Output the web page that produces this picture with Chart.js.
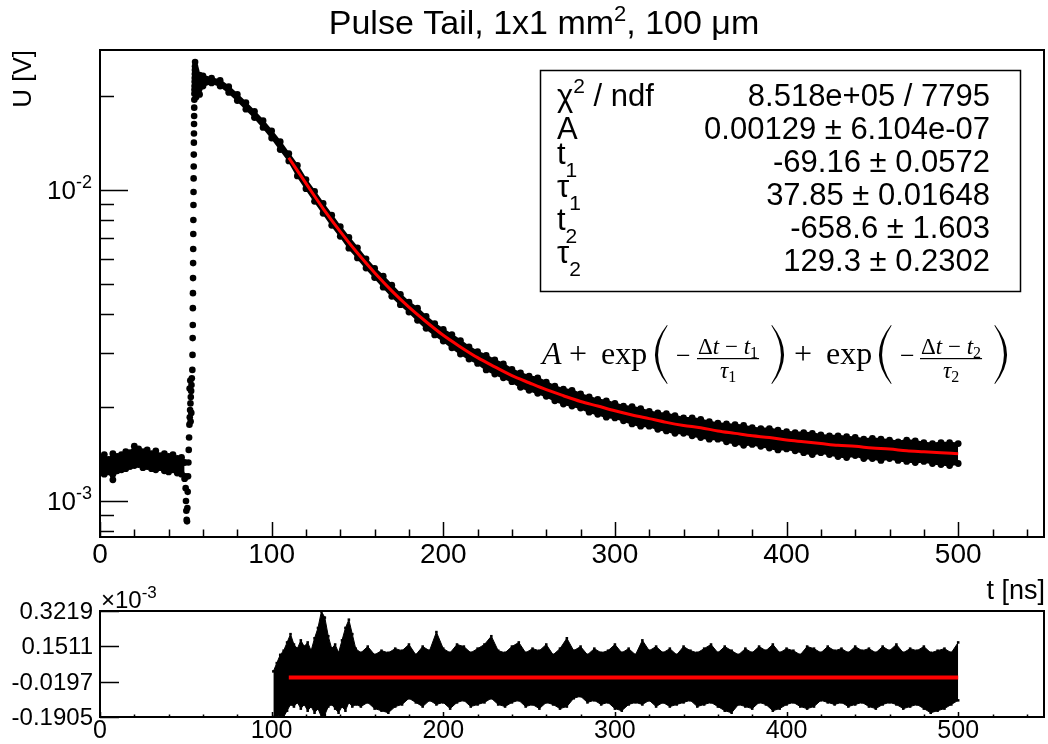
<!DOCTYPE html>
<html lang="en">
<head>
<meta charset="UTF-8">
<title>Pulse Tail, 1x1 mm2, 100 um</title>
<script src="https://cdn.jsdelivr.net/npm/chart.js"></script>
<style>
    body { margin: 0; background: #fff; }
    #wrap { position: relative; width: 1048px; height: 744px; }
    canvas { position: absolute; left: 0; top: 0; }
</style>
</head>
<body>
<div id="wrap">
    <canvas id="pulseChart" width="1048" height="744"></canvas>
    <canvas id="residChart" width="1048" height="744"></canvas>
</div>
<script>
// ---- values ----
// baseline noise band before the pulse (t in ns, U in V)
const baseT  = [0, 2.5, 5, 7.5, 10, 12.5, 15, 17.5, 20, 22.5, 25, 27.5, 30, 32.5, 35, 37.5, 40, 42.5, 45, 47.5, 49.3];
const baseHi = [1.38e-3, 1.41e-3, 1.36e-3, 1.42e-3, 1.39e-3, 1.41e-3, 1.44e-3, 1.43e-3, 1.50e-3, 1.47e-3, 1.44e-3,
                1.46e-3, 1.42e-3, 1.45e-3, 1.40e-3, 1.42e-3, 1.39e-3, 1.41e-3, 1.37e-3, 1.38e-3, 1.33e-3];
const baseLo = [1.23e-3, 1.22e-3, 1.24e-3, 1.17e-3, 1.25e-3, 1.26e-3, 1.27e-3, 1.29e-3, 1.30e-3, 1.31e-3, 1.28e-3,
                1.29e-3, 1.27e-3, 1.26e-3, 1.28e-3, 1.25e-3, 1.24e-3, 1.26e-3, 1.23e-3, 1.22e-3, 1.18e-3];

// single samples on the dip and the rising edge
const edgeT = [49.6, 49.9, 50.1, 50.3, 50.5, 50.7, 50.9, 51.1, 51.3, 51.5, 51.7, 51.9,
               52.1, 52.2, 52.3, 52.5, 52.6, 52.7, 52.8, 52.9, 53.1, 53.2, 53.3, 53.5,
               53.8, 53.9, 54.0, 54.05, 54.1, 54.15, 54.2, 54.25, 54.3, 54.35, 54.4, 54.45, 54.5, 54.55,
               54.6, 54.65, 54.7, 54.75, 54.8, 54.85, 54.9, 54.95, 55.0, 55.05, 55.1, 55.15, 55.2, 55.25,
               55.3, 55.35, 55.4, 55.7];
const edgeU = [1.20e-3, 1.10e-3, 1.00e-3, 0.93e-3, 0.87e-3, 0.86e-3, 0.95e-3, 1.07e-3, 1.20e-3, 1.33e-3, 1.46e-3, 1.60e-3,
               1.76e-3, 2.30e-3, 1.86e-3, 1.96e-3, 2.44e-3, 2.06e-3, 1.80e-3, 2.16e-3, 2.26e-3, 1.92e-3, 2.36e-3, 2.48e-3,
               2.64e-3, 2.95e-3, 3.34e-3, 3.68e-3, 4.17e-3, 4.66e-3, 5.21e-3, 5.82e-3, 6.46e-3, 7.22e-3, 8.01e-3, 8.95e-3,
               9.85e-3, 10.9e-3, 11.9e-3, 13.0e-3, 14.2e-3, 15.2e-3, 16.3e-3, 17.3e-3, 18.4e-3, 19.5e-3, 20.4e-3, 21.0e-3,
               21.6e-3, 22.3e-3, 22.9e-3, 23.6e-3, 24.3e-3, 25.0e-3, 25.8e-3, 24.5e-3];

// noise band of the pulse tail (upper / lower edge of the scatter)
const tailT  = [56, 58, 60, 65, 70, 75, 80, 85, 90, 95, 100, 105,
                110, 115, 120, 125, 130, 135, 140, 145, 150, 155,
                160, 165, 170, 175, 180, 185, 190, 195, 200, 205,
                210, 215, 220, 225, 230, 235, 240, 245, 250, 255,
                260, 265, 270, 275, 280, 285, 290, 295, 300, 305,
                310, 315, 320, 325, 330, 335, 340, 345, 350, 355,
                360, 365, 370, 375, 380, 385, 390, 395, 400, 405,
                410, 415, 420, 425, 430, 435, 440, 445, 450, 455,
                460, 465, 470, 475, 480, 485, 490, 495, 500];
const tailHi = [0.0241, 0.0234, 0.0233, 0.0229, 0.0225, 0.0215, 0.0203, 0.0191, 0.0179, 0.0167, 0.0155, 0.0143,
                0.0131, 0.0120, 0.0108, 0.0099, 0.00905, 0.0083, 0.00762, 0.00704, 0.00652, 0.00601,
                0.00560, 0.00528, 0.00494, 0.00462, 0.00436, 0.00417, 0.00392, 0.00372, 0.00356, 0.00343,
                0.00328, 0.00313, 0.00302, 0.00294, 0.00284, 0.00276, 0.00265, 0.00258, 0.00252, 0.00249,
                0.00241, 0.00234, 0.00229, 0.00227, 0.00221, 0.00216, 0.00212, 0.00210, 0.00206, 0.00202,
                0.00201, 0.00198, 0.00194, 0.00192, 0.00191, 0.00188, 0.00185, 0.00185, 0.00183, 0.00180,
                0.00178, 0.00177, 0.00176, 0.00175, 0.00172, 0.00171, 0.00171, 0.00169, 0.00167, 0.00166,
                0.00166, 0.00165, 0.00163, 0.00162, 0.00162, 0.00161, 0.00160, 0.00158, 0.00159, 0.00158,
                0.00157, 0.00155, 0.00157, 0.00156, 0.00154, 0.00153, 0.00154, 0.00154, 0.00153];
const tailLo = [0.0199, 0.0203, 0.0216, 0.0221, 0.0216, 0.0206, 0.0194, 0.0182, 0.0171, 0.0159, 0.0147, 0.0135,
                0.0124, 0.0111, 0.0101, 0.0092, 0.00842, 0.0077, 0.00710, 0.00650, 0.00605, 0.00561,
                0.00523, 0.00487, 0.00455, 0.00428, 0.00405, 0.00381, 0.00359, 0.00342, 0.00327, 0.00311,
                0.00297, 0.00286, 0.00277, 0.00264, 0.00256, 0.00249, 0.00242, 0.00232, 0.00227, 0.00222,
                0.00217, 0.00210, 0.00205, 0.00202, 0.00199, 0.00193, 0.00190, 0.00186, 0.00185, 0.00181,
                0.00177, 0.00174, 0.00174, 0.00170, 0.00168, 0.00165, 0.00165, 0.00162, 0.00160, 0.00158,
                0.00158, 0.00155, 0.00153, 0.00151, 0.00152, 0.00150, 0.00148, 0.00146, 0.00147, 0.00145,
                0.00143, 0.00141, 0.00143, 0.00141, 0.00139, 0.00138, 0.00140, 0.00137, 0.00137, 0.00135,
                0.00137, 0.00135, 0.00134, 0.00133, 0.00134, 0.00132, 0.00131, 0.00130, 0.00132];

// fitted curve (red)
const fitT = [110, 120, 130, 140, 150, 160, 170, 180, 190, 200, 210, 220, 230, 240, 250, 260, 270, 280, 290, 300,
              310, 320, 330, 340, 350, 360, 370, 380, 390, 400, 410, 420, 430, 440, 450, 460, 470, 480, 490, 500];
const fitU = [0.0127, 0.0105, 0.00872, 0.00735, 0.00627, 0.00542, 0.00474, 0.00420, 0.00377, 0.00341, 0.00313, 0.00289,
              0.00270, 0.00253, 0.00240, 0.00228, 0.00218, 0.00209, 0.00202, 0.00195, 0.00189, 0.00184, 0.00179, 0.00175,
              0.00172, 0.00168, 0.00165, 0.00162, 0.00160, 0.00157, 0.00155, 0.00153, 0.00151, 0.00150, 0.00148, 0.00147,
              0.00145, 0.00144, 0.00143, 0.00142];

// residuals, upper and lower edge of the scatter, in units of 1e-3
const resT  = [101, 103, 105, 107, 109, 111, 113, 115, 117, 119, 121, 123, 125, 127, 129, 131, 133, 135, 137, 139,
               141, 143, 145, 147, 149,
               152, 156, 160, 164, 168, 172, 176, 180, 184, 188,
               192, 196, 200, 204, 208, 212, 216, 220, 224, 228,
               232, 236, 240, 244, 248, 252, 256, 260, 264, 268,
               272, 276, 280, 284, 288, 292, 296, 300, 304, 308,
               312, 316, 320, 324, 328, 332, 336, 340, 344, 348,
               352, 356, 360, 364, 368, 372, 376, 380, 384, 388,
               392, 396, 400, 404, 408, 412, 416, 420, 424, 428,
               432, 436, 440, 444, 448, 452, 456, 460, 464, 468,
               472, 476, 480, 484, 488, 492, 496, 500];
const resHi = [0.03, 0.07, 0.11, 0.13, 0.17, 0.21, 0.16, 0.14, 0.18, 0.15, 0.17, 0.13, 0.19, 0.24, 0.32, 0.29, 0.20,
               0.14, 0.16, 0.12, 0.18, 0.24, 0.28, 0.21, 0.14,
               0.12, 0.15, 0.11, 0.13, 0.12, 0.14, 0.13, 0.16, 0.11, 0.15,
               0.13, 0.22, 0.14, 0.12, 0.16, 0.15, 0.12, 0.14, 0.16, 0.20,
               0.13, 0.12, 0.15, 0.17, 0.12, 0.14, 0.13, 0.16, 0.11, 0.14,
               0.19, 0.13, 0.15, 0.11, 0.14, 0.12, 0.13, 0.16, 0.12, 0.14,
               0.11, 0.18, 0.13, 0.15, 0.12, 0.14, 0.11, 0.15, 0.13, 0.12,
               0.14, 0.16, 0.12, 0.15, 0.13, 0.11, 0.14, 0.12, 0.15, 0.13,
               0.16, 0.12, 0.14, 0.13, 0.11, 0.15, 0.14, 0.12, 0.15, 0.13,
               0.14, 0.12, 0.15, 0.13, 0.14, 0.12, 0.15, 0.13, 0.16, 0.12,
               0.14, 0.13, 0.15, 0.12, 0.13, 0.14, 0.12, 0.17];
const resLo = [-0.19, -0.19, -0.18, -0.19, -0.16, -0.13, -0.14, -0.12, -0.15, -0.13, -0.16, -0.14, -0.17, -0.15,
               -0.19, -0.18, -0.14, -0.13, -0.15, -0.17, -0.14, -0.16, -0.12, -0.14, -0.13,
               -0.14, -0.12, -0.15, -0.16, -0.17, -0.14, -0.13, -0.10, -0.12, -0.14,
               -0.11, -0.13, -0.12, -0.15, -0.12, -0.11, -0.14, -0.13, -0.12, -0.10,
               -0.13, -0.14, -0.12, -0.11, -0.14, -0.13, -0.15, -0.12, -0.13, -0.15,
               -0.14, -0.10, -0.09, -0.12, -0.11, -0.13, -0.12, -0.15, -0.16, -0.13,
               -0.12, -0.13, -0.11, -0.14, -0.12, -0.14, -0.13, -0.12, -0.11, -0.14,
               -0.13, -0.12, -0.14, -0.16, -0.17, -0.13, -0.14, -0.15, -0.12, -0.13,
               -0.16, -0.15, -0.13, -0.12, -0.14, -0.15, -0.14, -0.11, -0.12, -0.13,
               -0.12, -0.14, -0.13, -0.12, -0.14, -0.15, -0.13, -0.12, -0.13, -0.15,
               -0.14, -0.13, -0.15, -0.17, -0.16, -0.15, -0.13, -0.11];
const zeroT = [110, 500];
const zeroU = [0, 0];

const xTicks = [0, 100, 200, 300, 400, 500];
const yDecades = [-3, -2];
const resTicks = [0.3219, 0.1511, -0.0197, -0.1905];

const statNames = ['χ', 'A', 't', 'τ', 't', 'τ'];
const statSubs = ['', '', '1', '1', '2', '2'];
const statValues = ['8.518e+05 / 7795', '0.00129 ± 6.104e-07', '-69.16 ± 0.0572',
                    '37.85 ± 0.01648', '-658.6 ± 1.603', '129.3 ± 0.2302'];

// ---- helpers ----
const SANS = '"Liberation Sans", Arial, Helvetica, sans-serif';
const SERIF = '"Liberation Serif", "Times New Roman", serif';

function pts(xs, ys) {
    return xs.map((x, i) => ({ x: x, y: ys[i] }));
}

// draw a run of text pieces: [text, size, dy, family, style]
function drawRun(ctx, x, y, parts, align) {
    let w = 0;
    parts.forEach(p => {
        ctx.font = (p[4] || '') + ' ' + p[1] + 'px ' + (p[3] || SANS);
        p.w = ctx.measureText(p[0]).width;
        w += p.w;
    });
    let cx = x;
    if (align === 'right') cx = x - w;
    if (align === 'center') cx = x - w / 2;
    ctx.textAlign = 'left';
    ctx.textBaseline = 'alphabetic';
    parts.forEach(p => {
        ctx.font = (p[4] || '') + ' ' + p[1] + 'px ' + (p[3] || SANS);
        ctx.fillText(p[0], cx, y + (p[2] || 0));
        cx += p.w;
    });
    return w;
}

function drawFraction(ctx, x, num, den) {
    const probe = document.createElement('canvas').getContext('2d');
    const wn = drawRun(probe, 0, 0, num);
    const wd = drawRun(probe, 0, 0, den);
    const w = Math.max(wn, wd) + 2;
    drawRun(ctx, x + (w - wn) / 2, 354, num);
    ctx.fillRect(x, 358, w, 1.2);
    drawRun(ctx, x + (w - wd) / 2, 378, den);
}

// thin, tall TeX-like parenthesis
function drawParen(ctx, x, top, bottom, open) {
    const w = 12, mid = (top + bottom) / 2;
    ctx.beginPath();
    if (open) {
        ctx.moveTo(x + w, top);
        ctx.quadraticCurveTo(x - w, mid, x + w, bottom);
        ctx.lineTo(x + w + 0.6, bottom - 0.5);
        ctx.quadraticCurveTo(x + 5.6 - w, mid, x + w + 0.6, top + 0.5);
    } else {
        ctx.moveTo(x, top);
        ctx.quadraticCurveTo(x + 2 * w, mid, x, bottom);
        ctx.lineTo(x - 0.6, bottom - 0.5);
        ctx.quadraticCurveTo(x + 2 * w - 5.6, mid, x - 0.6, top + 0.5);
    }
    ctx.closePath();
    ctx.fill();
}

function drawFormula(ctx) {
    const big = 32, sm = 23, sub = 16;
    drawRun(ctx, 542, 364, [['A', big, 0, SERIF, 'italic']]);
    drawRun(ctx, 569, 364, [['+', big, 0, SERIF]]);
    drawRun(ctx, 601, 364, [['exp', big, 0, SERIF]]);
    drawParen(ctx, 655, 325, 384, true);
    drawRun(ctx, 676, 364, [['−', 26, 0, SERIF]]);
    drawFraction(ctx, 697,
        [['Δ', sm, 0, SERIF], ['t', sm, 0, SERIF, 'italic'], [' − ', sm, 0, SERIF], ['t', sm, 0, SERIF, 'italic'], ['1', sub, 4, SERIF]],
        [['τ', sm, 0, SERIF, 'italic'], ['1', sub, 4, SERIF]]);
    drawParen(ctx, 772, 325, 384, false);
    drawRun(ctx, 794, 364, [['+', big, 0, SERIF]]);
    drawRun(ctx, 826, 364, [['exp', big, 0, SERIF]]);
    drawParen(ctx, 879, 325, 384, true);
    drawRun(ctx, 900, 364, [['−', 26, 0, SERIF]]);
    drawFraction(ctx, 920,
        [['Δ', sm, 0, SERIF], ['t', sm, 0, SERIF, 'italic'], [' − ', sm, 0, SERIF], ['t', sm, 0, SERIF, 'italic'], ['2', sub, 4, SERIF]],
        [['τ', sm, 0, SERIF, 'italic'], ['2', sub, 4, SERIF]]);
    drawParen(ctx, 995, 325, 384, false);
}

function drawStats(ctx) {
    ctx.lineWidth = 1.5;
    ctx.strokeRect(540.5, 70.5, 480, 221);
    const fs = 31;
    for (let i = 0; i < statValues.length; i++) {
        const yb = 106 + i * 33;
        if (i === 0) {
            drawRun(ctx, 557, yb, [['χ', fs], ['2', 21, -13], [' / ndf', fs]]);
        } else if (statSubs[i]) {
            drawRun(ctx, 557, yb, [[statNames[i], fs, -8], [statSubs[i], 21, 5]]);
        } else {
            drawRun(ctx, 557, yb, [[statNames[i], fs]]);
        }
        drawRun(ctx, 990, yb, [[statValues[i], fs]], 'right');
    }
}

// ROOT-like frame, inward ticks and labels for the pulse pad
const pulseAxes = {
    id: 'pulseAxes',
    afterDraw(chart) {
        const { ctx, chartArea: a, scales: { x, y } } = chart;
        ctx.save();
        ctx.strokeStyle = '#000';
        ctx.fillStyle = '#000';
        ctx.lineWidth = 1.5;
        ctx.beginPath();
        for (let v = 0; v <= 550; v += 20) {
            const px = Math.round(x.getPixelForValue(v)) + 0.5;
            const len = v % 100 === 0 ? 15 : 7.5;
            ctx.moveTo(px, a.bottom);
            ctx.lineTo(px, a.bottom - len);
        }
        for (let e = -4; e <= -1; e++) {
            for (let k = 1; k <= 9; k++) {
                const v = k * Math.pow(10, e);
                if (v < y.min || v > y.max) continue;
                const py = Math.round(y.getPixelForValue(v)) + 0.5;
                ctx.moveTo(a.left, py);
                ctx.lineTo(a.left + (k === 1 ? 28 : 14), py);
            }
        }
        ctx.stroke();
        ctx.lineWidth = 2;
        ctx.strokeRect(a.left, a.top, a.right - a.left, a.bottom - a.top);

        xTicks.forEach(v => drawRun(ctx, x.getPixelForValue(v), 563, [[String(v), 28]], 'center'));
        yDecades.forEach(e => {
            drawRun(ctx, 92, y.getPixelForValue(Math.pow(10, e)) + 9, [['10', 26], [String(e), 18, -11]], 'right');
        });

        drawRun(ctx, 544, 34, [['Pulse Tail, 1x1 mm', 34], ['2', 22, -13], [', 100 ', 34], ['μ', 34], ['m', 34]], 'center');
        drawRun(ctx, 1045, 599, [['t [ns]', 27]], 'right');
        ctx.save();
        ctx.translate(31, 50);
        ctx.rotate(-Math.PI / 2);
        drawRun(ctx, 0, 0, [['U [V]', 26]], 'right');
        ctx.restore();

        drawStats(ctx);
        drawFormula(ctx);
        ctx.restore();
    }
};

const residAxes = {
    id: 'residAxes',
    afterDraw(chart) {
        const { ctx, chartArea: a, scales: { x, y } } = chart;
        ctx.save();
        ctx.strokeStyle = '#000';
        ctx.fillStyle = '#000';
        ctx.lineWidth = 1.5;
        ctx.beginPath();
        for (let v = 0; v <= 550; v += 20) {
            const px = Math.round(x.getPixelForValue(v)) + 0.5;
            const len = v % 100 === 0 ? 5 : 2.5;
            ctx.moveTo(px, a.bottom);
            ctx.lineTo(px, a.bottom - len);
        }
        resTicks.forEach(v => {
            const py = Math.round(y.getPixelForValue(v)) + 0.5;
            ctx.moveTo(a.left, py);
            ctx.lineTo(a.left + 19, py);
        });
        ctx.stroke();
        ctx.lineWidth = 2;
        ctx.strokeRect(a.left, a.top, a.right - a.left, a.bottom - a.top);

        xTicks.forEach(v => drawRun(ctx, x.getPixelForValue(v), 738, [[String(v), 25]], 'center'));
        resTicks.forEach(v => drawRun(ctx, 93, y.getPixelForValue(v) + 8, [[v.toFixed(4), 24]], 'right'));
        drawRun(ctx, 101, 608, [['×10', 24], ['-3', 17, -10]]);
        ctx.restore();
    }
};

const band = (data, fill) => ({
    data: data,
    fill: fill,
    backgroundColor: '#000',
    borderColor: '#000',
    borderWidth: 2,
    pointRadius: 3.4,
    pointBackgroundColor: '#000',
    pointBorderWidth: 0,
    tension: 0
});

const resEdge = (data, fill) => ({
    data: data,
    fill: fill,
    backgroundColor: '#000',
    borderColor: '#000',
    borderWidth: 1,
    pointStyle: 'rect',
    pointRadius: 1.8,
    pointBackgroundColor: '#000',
    pointBorderWidth: 0,
    tension: 0
});

new Chart(document.getElementById('pulseChart'), {
    type: 'line',
    data: {
        datasets: [
            {
                data: pts(fitT, fitU),
                borderColor: '#ff0000',
                borderWidth: 3,
                pointRadius: 0,
                fill: false,
                cubicInterpolationMode: 'monotone',
                order: -1
            },
            band(pts(baseT, baseHi), '+1'),
            band(pts(baseT, baseLo), false),
            band(pts(tailT, tailHi), '+1'),
            band(pts(tailT, tailLo), false),
            {
                data: pts(edgeT, edgeU),
                showLine: false,
                pointRadius: 3.3,
                pointBackgroundColor: '#000',
                pointBorderWidth: 0
            }
        ]
    },
    options: {
        responsive: false,
        animation: false,
        devicePixelRatio: 1,
        layout: { padding: { left: 100, top: 50, right: 3, bottom: 207 } },
        plugins: { legend: { display: false }, tooltip: { enabled: false } },
        scales: {
            x: { type: 'linear', min: 0, max: 550, display: false },
            y: { type: 'logarithmic', min: 7.66e-4, max: 0.0282, display: false }
        }
    },
    plugins: [pulseAxes]
});

new Chart(document.getElementById('residChart'), {
    type: 'line',
    data: {
        datasets: [
            {
                data: pts(zeroT, zeroU),
                borderColor: '#ff0000',
                borderWidth: 4,
                pointRadius: 0,
                fill: false,
                order: -1
            },
            resEdge(pts(resT, resHi), '+1'),
            resEdge(pts(resT, resLo), false)
        ]
    },
    options: {
        responsive: false,
        animation: false,
        devicePixelRatio: 1,
        layout: { padding: { left: 100, top: 611, right: 3, bottom: 27 } },
        plugins: { legend: { display: false }, tooltip: { enabled: false } },
        scales: {
            x: { type: 'linear', min: 0, max: 550, display: false },
            y: { type: 'linear', min: -0.1905, max: 0.3219, display: false }
        }
    },
    plugins: [residAxes]
});
</script>
</body>
</html>
